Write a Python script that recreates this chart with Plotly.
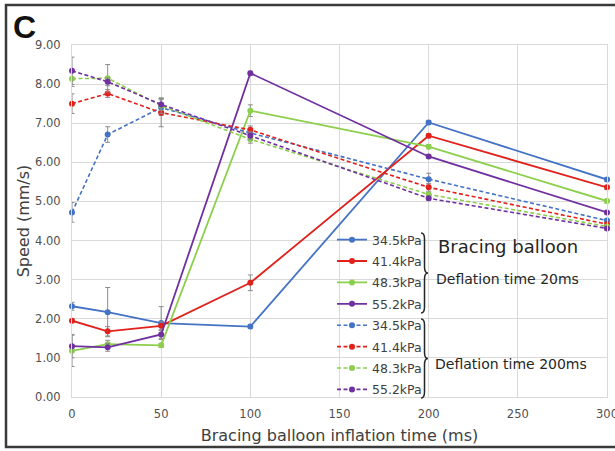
import plotly.graph_objects as go

# ---- data ----
inflation_ms = [0, 20, 50, 100, 200, 300]
pressures = ["34.5kPa", "41.4kPa", "48.3kPa", "55.2kPa"]

# deflation time 20 ms (solid)
s_345 = [2.32, 2.17, 1.89, 1.80, 7.02, 5.56]
s_414 = [1.95, 1.68, 1.82, 2.92, 6.68, 5.36]
s_483 = [1.18, 1.35, 1.32, 7.32, 6.40, 5.01]
s_552 = [1.30, 1.27, 1.60, 8.28, 6.15, 4.72]
s_345_err = [0.10, 0.63, 0.42, 0.05, 0.05, 0.05]
s_414_err = [0.05, 0.12, 0.10, 0.20, 0.05, 0.05]
s_483_err = [0.40, 0.10, 0.05, 0.15, 0.05, 0.05]
s_552_err = [0.30, 0.10, 0.10, 0.05, 0.05, 0.05]

# deflation time 200 ms (dashed)
d_345 = [4.72, 6.71, 7.40, 6.75, 5.57, 4.51]
d_414 = [7.50, 7.76, 7.27, 6.83, 5.36, 4.42]
d_483 = [8.14, 8.15, 7.45, 6.59, 5.18, 4.36]
d_552 = [8.34, 8.06, 7.48, 6.68, 5.08, 4.31]
d_345_err = [0.25, 0.20, 0.20, 0.10, 0.15, 0.05]
d_414_err = [0.25, 0.10, 0.36, 0.10, 0.10, 0.05]
d_483_err = [0.20, 0.35, 0.20, 0.10, 0.05, 0.05]
d_552_err = [0.35, 0.10, 0.15, 0.10, 0.05, 0.05]

x_ticks = [0, 50, 100, 150, 200, 250, 300]
y_ticks = [0, 1, 2, 3, 4, 5, 6, 7, 8, 9]
y_tick_labels = ["%.2f" % v for v in y_ticks]

colors = ["#4472C4", "#E0211C", "#8CCF4C", "#7030A0"]

solid = [s_345, s_414, s_483, s_552]
solid_err = [s_345_err, s_414_err, s_483_err, s_552_err]
dashed = [d_345, d_414, d_483, d_552]
dashed_err = [d_345_err, d_414_err, d_483_err, d_552_err]

FONT = "DejaVu Sans"

# plot area in pixels: left 72, right 607, top 45, bottom 397
L, R, T, B = 72, 607, 45, 397
def px(x):
    return (x - L) / (R - L)
def py(y):
    return (B - y) / (B - T)

fig = go.Figure()
legend_keys = ["legend"] + [f"legend{i}" for i in range(2, 9)]
legend_layout = {}
k = 0
for group, errs, dash, lw in ((solid, solid_err, "solid", 1.8),
                              (dashed, dashed_err, "4px,2.5px", 1.6)):
    for name, ys, es, c in zip(pressures, group, errs, colors):
        key = legend_keys[k]
        fig.add_trace(go.Scatter(
            x=inflation_ms, y=ys, name=name, mode="lines+markers",
            line=dict(color=c, width=lw, dash=dash),
            marker=dict(color=c, size=6),
            error_y=dict(type="data", array=es, color="#8c8c8c", thickness=1, width=2.5),
            cliponaxis=False, legend=key,
        ))
        legend_layout[key] = dict(
            x=px(332), y=py(240 + k * 21.4), xanchor="left", yanchor="middle",
            bgcolor="rgba(0,0,0,0)", font=dict(family=FONT, size=12.5, color="#404040"),
            itemwidth=30)
        k += 1

def brace(x0, ytop, ybot, w=7, r=6):
    ym = (ytop + ybot) / 2
    xm = x0 + w / 2
    pts = [
        f"M {px(x0)},{py(ytop)}",
        f"Q {px(xm)},{py(ytop)} {px(xm)},{py(ytop + r)}",
        f"L {px(xm)},{py(ym - r)}",
        f"Q {px(xm)},{py(ym)} {px(x0 + w)},{py(ym)}",
        f"Q {px(xm)},{py(ym)} {px(xm)},{py(ym + r)}",
        f"L {px(xm)},{py(ybot - r)}",
        f"Q {px(xm)},{py(ybot)} {px(x0)},{py(ybot)}",
    ]
    return dict(type="path", xref="paper", yref="paper", path=" ".join(pts),
                line=dict(color="#262626", width=1.5))

shapes = [
    brace(421, 233, 313),
    brace(421, 319, 398),
    dict(type="rect", xref="paper", yref="paper",
         x0=px(6), x1=px(640), y0=py(447), y1=py(5),
         line=dict(color="#3a3a3a", width=2.5), layer="above"),
]

annotations = [
    dict(text="C", xref="paper", yref="paper", x=px(11), y=py(27), xanchor="left",
         yanchor="middle", showarrow=False,
         font=dict(family="Liberation Sans", size=32, color="#111111", weight="bold")),
    dict(text="Bracing balloon", xref="paper", yref="paper", x=px(436), y=py(246),
         xanchor="left", yanchor="middle", showarrow=False,
         font=dict(family=FONT, size=18, color="#262626")),
    dict(text="Deflation time 20ms", xref="paper", yref="paper", x=px(434), y=py(279),
         xanchor="left", yanchor="middle", showarrow=False,
         font=dict(family=FONT, size=14, color="#262626")),
    dict(text="Deflation time 200ms", xref="paper", yref="paper", x=px(433), y=py(364),
         xanchor="left", yanchor="middle", showarrow=False,
         font=dict(family=FONT, size=14, color="#262626")),
]

fig.update_layout(
    width=615, height=451,
    margin=dict(l=L, r=615 - R, t=T, b=451 - B, pad=0, autoexpand=False),
    paper_bgcolor="white", plot_bgcolor="white",
    font=dict(family=FONT, color="#404040"),
    showlegend=True,
    shapes=shapes,
    annotations=annotations,
    xaxis=dict(range=[0, 300], tickvals=x_ticks, showgrid=True, gridcolor="#d9d9d9",
               gridwidth=1, zeroline=False, showline=True, linecolor="#d9d9d9",
               mirror=True, ticks="", automargin=False, ticklabeloverflow="allow",
               ticklabelstandoff=6,
               tickfont=dict(size=11.5, color="#505050"),
               title=dict(text="Bracing balloon inflation time (ms)",
                          font=dict(size=16, color="#404040"), standoff=10)),
    yaxis=dict(range=[0, 9], tickvals=y_ticks, ticktext=y_tick_labels, showgrid=True,
               gridcolor="#d9d9d9", gridwidth=1, zeroline=False, showline=True,
               linecolor="#d9d9d9", mirror=True, ticks="", automargin=False,
               tickfont=dict(size=11.5, color="#505050"), ticklabelstandoff=8,
               title=dict(text="Speed (mm/s)", font=dict(size=16, color="#404040"),
                          standoff=1)),
    **legend_layout,
)

fig.write_html("out.html", config={"displayModeBar": False},
               post_script="document.body.style.margin='0';")
